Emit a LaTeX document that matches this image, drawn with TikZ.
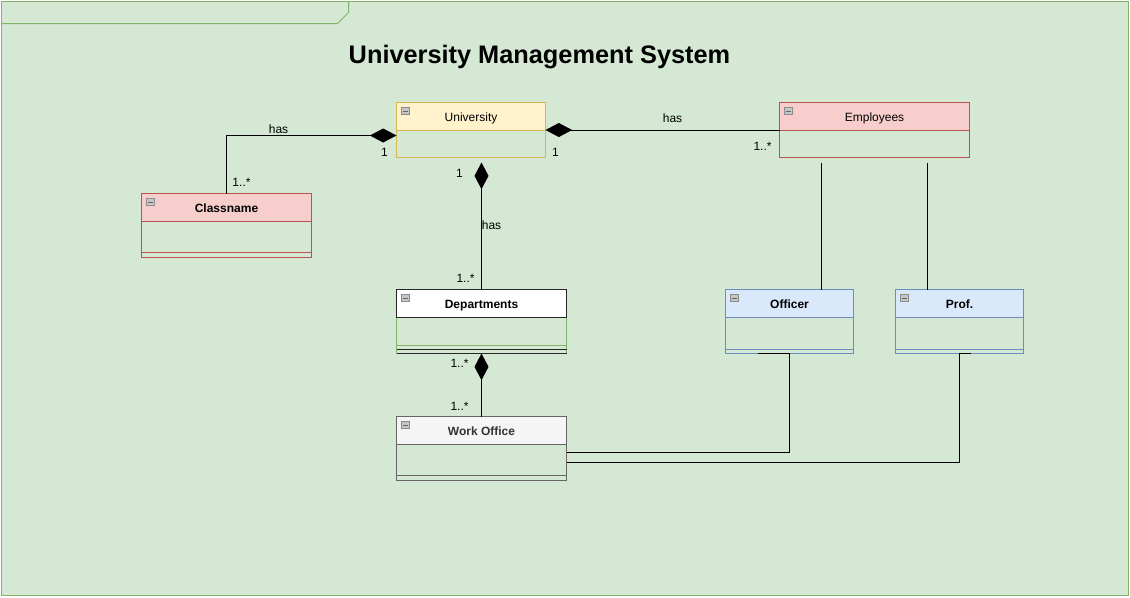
\documentclass[tikz,border=0pt]{standalone}
\usepackage{fontspec}
\setmainfont{Liberation Sans}
\usetikzlibrary{arrows.meta,calc,positioning}

\begin{document}
\begin{tikzpicture}[x=0.75pt,y=-0.75pt,line width=0.75pt,
        font=\fontsize{9}{11}\selectfont,
        classBox/.style={anchor=north west,inner sep=0pt,outer sep=0pt},
        classHead/.style={anchor=north west,inner sep=0pt,outer sep=0pt,minimum height=21pt,
            text height=1.9ex,text depth=0.5ex},
        assoc/.style={draw=black},
        compo/.style={-{Diamond[length=20pt,width=10.5pt]}},
        lbl/.style={inner sep=0pt}]
            \definecolor{bgFill}{HTML}{D5E8D4}
            \definecolor{bgDraw}{HTML}{82B366}
            \definecolor{univFill}{HTML}{FFF2CC}
            \definecolor{univDraw}{HTML}{D6B656}
            \definecolor{redFill}{HTML}{F8CECC}
            \definecolor{redDraw}{HTML}{B85450}
            \definecolor{blueFill}{HTML}{DAE8FC}
            \definecolor{blueDraw}{HTML}{6C8EBF}
            \definecolor{workFill}{HTML}{F5F5F5}
            \definecolor{workDraw}{HTML}{666666}
            \definecolor{workText}{HTML}{333333}
            \colorlet{iconFill}{gray!45}
            \colorlet{iconDraw}{gray!90}
            \useasboundingbox (-0.5,-0.5) rectangle (1129.5,596.5);
            \draw[bgDraw,fill=bgFill] (1,1) rectangle (1128,595);
            \draw[bgDraw] (1,23) -- (337,23) -- (348,12) -- (348,1);
            \node[font=\bfseries\fontsize{19}{23}\selectfont] (title) at (539,57) {University Management System};
            \foreach \cName/\cX/\cY/\cW/\cH/\cS/\cTitle/\cFill/\cDraw in
                {univ/396/102/149/55/0/University/univFill/univDraw,
                 emp/779/102/190/55/0/Employees/redFill/redDraw,
                 cls/141/193/170/64/5/\textbf{Classname}/redFill/redDraw,
                 dept/396/289/170/64/8/\textbf{Departments}/white/bgDraw,
                 work/396/416/170/64/5/{\textcolor{workText}{\textbf{Work Office}}}/workFill/workDraw,
                 officer/725/289/128/64/4/\textbf{Officer}/blueFill/blueDraw,
                 prof/895/289/128/64/4/\textbf{Prof.}/blueFill/blueDraw}
                {   \node[classBox,minimum width=\cW*0.75pt,minimum height=\cH*0.75pt] (\cName) at (\cX,\cY) {};
                    \draw[\cDraw] (\cName.north west) rectangle (\cName.south east);
                    \node[classHead,fill=\cFill,draw=\cDraw,minimum width=\cW*0.75pt] (\cName Head) at (\cX,\cY) {\cTitle};
                    \draw[\cDraw] (\cX,\cY+\cH-\cS) -- (\cX+\cW,\cY+\cH-\cS);
                    \draw[iconDraw,fill=iconFill,line width=0.5pt] (\cX+5,\cY+5) rectangle (\cX+13,\cY+12);
                    \draw[black!60,line width=0.6pt] (\cX+6.5,\cY+8.5) -- (\cX+11.5,\cY+8.5);
                }
            \draw[black!85] (deptHead.north west) rectangle (deptHead.south east);
            \draw[black!85] ($(dept.south west)+(0,-4)$) -- ($(dept.south east)+(0,-4)$);
            \draw[black!85] (dept.south west) -- (dept.south east);
            \draw[assoc,compo] (cls.north) |- ($(univ.west)+(0,5.5)$);
            \draw[assoc,compo] (emp.west) -- (univ.east);
            \draw[assoc,compo] (dept.north) -- ($(dept.north |- univ.south)+(0,5)$);
            \draw[assoc,compo] (work.north) -- (dept.south);
            \coordinate (empOff) at ($(emp.south west)+(42,5)$);
            \coordinate (empProf) at ($(emp.south east)+(-42,5)$);
            \draw[assoc] (empOff) -- (empOff |- officer.north);
            \draw[assoc] (empProf) -- (empProf |- prof.north);
            \draw[assoc] ($(officer.south)+(-32,0)$) -- (officer.south) |- ($(work.east)+(0,4)$);
            \draw[assoc] ($(prof.south)+(11,0)$) -- (prof.south) |- ($(work.east)+(0,14)$);
            \node[lbl] (hasCls) at (278,129) {has};
            \node[lbl] (oneCls) at (384,152) {1};
            \node[lbl] (manyCls) at (241,182) {1..*};
            \node[lbl] (hasEmp) at (672,118) {has};
            \node[lbl] (oneEmp) at (555,152) {1};
            \node[lbl] (manyEmp) at (762,146) {1..*};
            \node[lbl] (oneDept) at (459,173) {1};
            \node[lbl] (hasDept) at (491,225) {has};
            \node[lbl] (manyDept) at (465,278) {1..*};
            \node[lbl] (manyWorkA) at (459,363) {1..*};
            \node[lbl] (manyWorkB) at (459,406) {1..*};
        \end{tikzpicture}
\end{document}
